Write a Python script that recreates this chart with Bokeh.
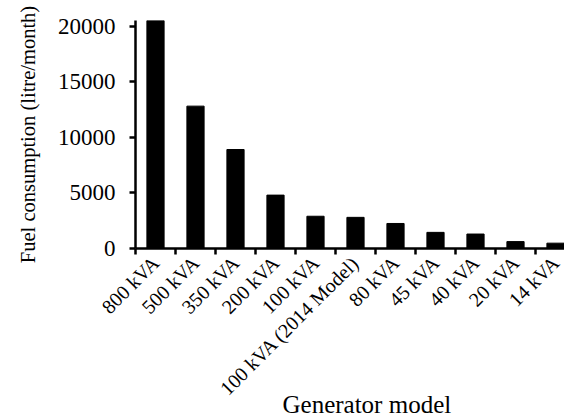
import math
from bokeh.plotting import figure
from bokeh.models import FixedTicker, Range1d, ColumnDataSource, Title
from bokeh.embed import file_html
from bokeh.resources import INLINE

models = ["800 kVA", "500 kVA", "350 kVA", "200 kVA", "100 kVA", "100 kVA (2014 Model)",
          "80 kVA", "45 kVA", "40 kVA", "20 kVA", "14 kVA"]
fuel = [20500, 12800, 8900, 4800, 2900, 2800, 2250, 1450, 1300, 620, 480]
y_ticks = [0, 5000, 10000, 15000, 20000]

centers = [i + 0.5 for i in range(len(models))]
bounds = [float(i) for i in range(len(models) + 1)]

src = ColumnDataSource(dict(x=centers, top=fuel))

FONT = "Liberation Serif"

p = figure(width=564, height=418, output_backend="svg", toolbar_location=None,
           x_range=Range1d(0, 10.725), y_range=Range1d(0, 20500),
           min_border_left=135, min_border_right=0, min_border_top=20, min_border_bottom=170)
p.vbar(x="x", top="top", width=0.43, bottom=0, source=src, color="black")

p.grid.visible = False
p.outline_line_color = None
p.background_fill_color = "white"
p.border_fill_color = "white"

xa = p.xaxis[0]
xa.ticker = FixedTicker(ticks=centers, minor_ticks=bounds)
xa.major_label_overrides = {c: m for c, m in zip(centers, models)}
xa.major_label_orientation = math.pi / 4
xa.major_tick_in = 0
xa.major_tick_out = 0
xa.minor_tick_in = 0
xa.minor_tick_out = 6
xa.minor_tick_line_width = 2.5
xa.minor_tick_line_color = "black"
xa.axis_line_width = 2.5
xa.axis_line_color = "black"
xa.major_label_text_font = FONT
xa.major_label_text_font_size = "20px"
xa.major_label_text_color = "black"
xa.major_label_standoff = 5

# x-axis title: positioned as in the reference (right of the long rotated label)
p.add_layout(Title(text="Generator model", align="left", offset=147, standoff=-40,
                   vertical_align="top",
                   text_font=FONT, text_font_size="25px", text_font_style="normal",
                   text_color="black"), "below")

ya = p.yaxis[0]
ya.ticker = FixedTicker(ticks=y_ticks)
ya.major_tick_in = 0
ya.major_tick_out = 6
ya.major_tick_line_width = 2.5
ya.major_tick_line_color = "black"
ya.minor_tick_line_color = None
ya.axis_line_width = 2.5
ya.axis_line_color = "black"
ya.major_label_text_font = FONT
ya.major_label_text_font_size = "23px"
ya.major_label_text_color = "black"
ya.major_label_standoff = 14
ya.axis_label = "Fuel consumption (litre/month)"
ya.axis_label_text_font = FONT
ya.axis_label_text_font_size = "20.5px"
ya.axis_label_text_font_style = "normal"
ya.axis_label_text_color = "black"
ya.axis_label_standoff = 16

open("out.html", "w").write(file_html(p, INLINE))
